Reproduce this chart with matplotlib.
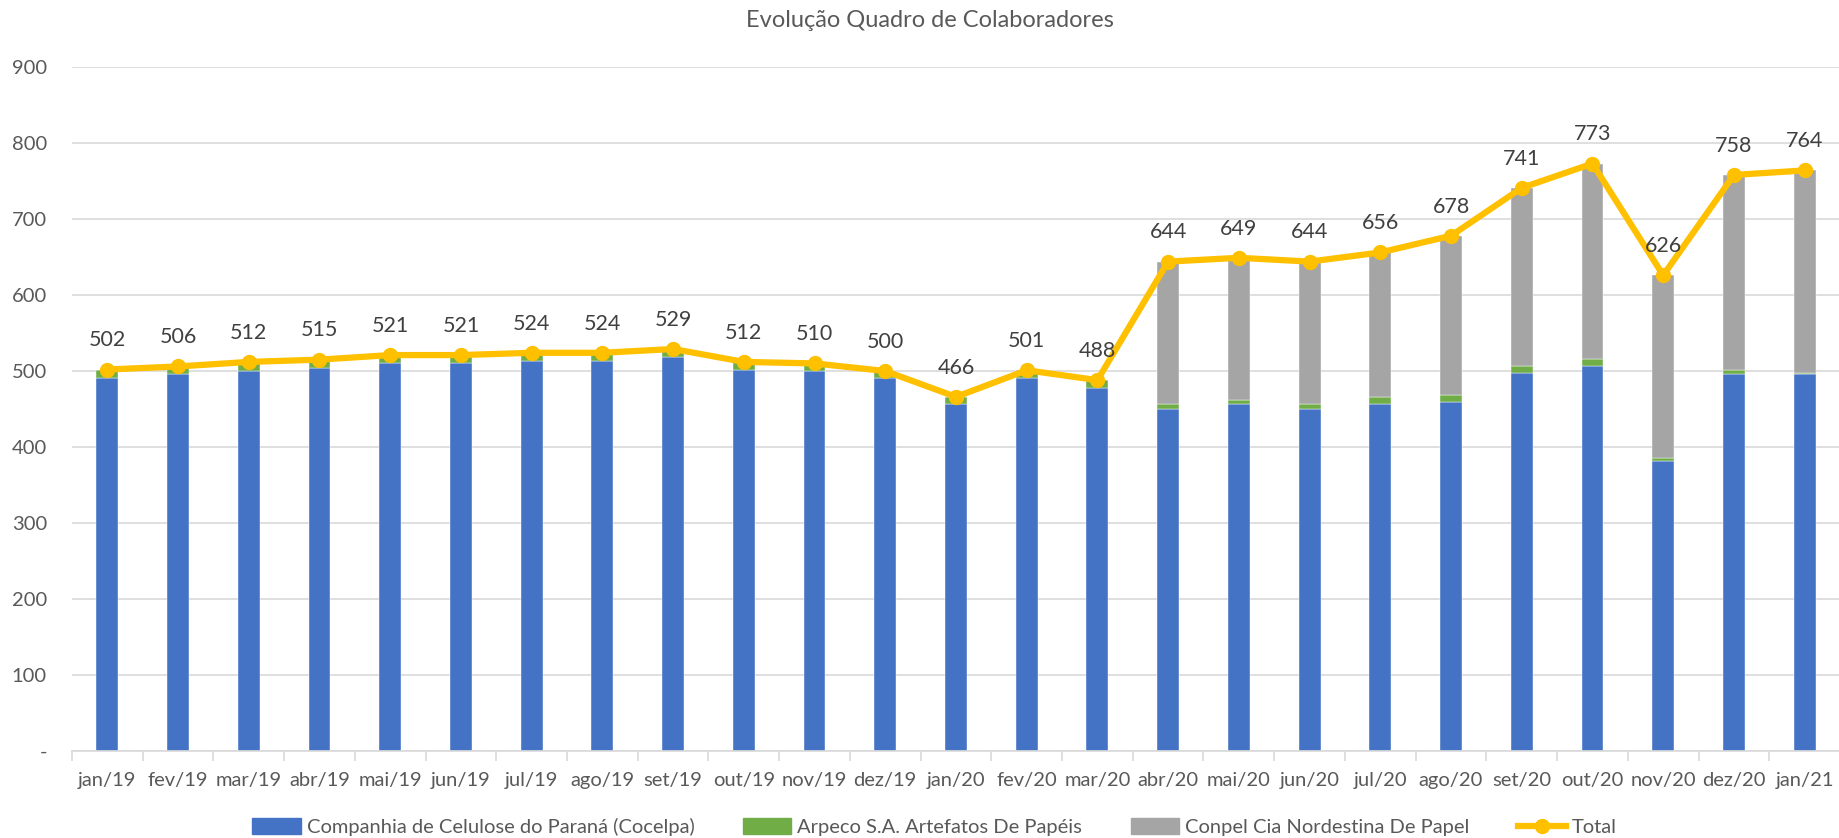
import matplotlib
matplotlib.use("Agg")
import matplotlib.pyplot as plt
import numpy as np
from matplotlib.lines import Line2D
from matplotlib.patches import Patch

plt.rcParams['font.family'] = ['Lato', 'DejaVu Sans']

months = ["jan/19", "fev/19", "mar/19", "abr/19", "mai/19", "jun/19", "jul/19", "ago/19",
          "set/19", "out/19", "nov/19", "dez/19", "jan/20", "fev/20", "mar/20", "abr/20",
          "mai/20", "jun/20", "jul/20", "ago/20", "set/20", "out/20", "nov/20", "dez/20", "jan/21"]
cocelpa = [491, 496, 500, 504, 510, 510, 513, 513, 518, 502, 500, 491, 457, 491, 478,
           450, 456, 450, 457, 459, 497, 507, 381, 496, 496]
arpeco = [11, 10, 12, 11, 11, 11, 11, 11, 11, 10, 10, 9, 9, 10, 10,
          7, 6, 7, 9, 10, 10, 9, 5, 6, 1]
conpel = [0, 0, 0, 0, 0, 0, 0, 0, 0, 0, 0, 0, 0, 0, 0,
          187, 187, 187, 190, 209, 234, 257, 240, 256, 267]
total = [502, 506, 512, 515, 521, 521, 524, 524, 529, 512, 510, 500, 466, 501, 488,
         644, 649, 644, 656, 678, 741, 773, 626, 758, 764]
yticks = [0, 100, 200, 300, 400, 500, 600, 700, 800, 900]
ytick_labels = ["-", "100", "200", "300", "400", "500", "600", "700", "800", "900"]

series_names = ["Companhia de Celulose do Paraná (Cocelpa)", "Arpeco S.A. Artefatos De Papéis",
                "Conpel Cia Nordestina De Papel", "Total"]
c_blue, c_green, c_grey, c_gold = "#4472C4", "#70AD47", "#A5A5A5", "#FFC000"
text_c = "#595959"

fig = plt.figure(figsize=(18.4, 8.38), dpi=100)
ax = fig.add_axes([0.0391, 0.1038, 0.9609, 0.8162])

x = np.arange(len(months))
w = 0.31
b1 = np.array(cocelpa)
b2 = np.array(arpeco)
b3 = np.array(conpel)
ax.bar(x, b1, w, color=c_blue, zorder=2, edgecolor="white", linewidth=0.3)
ax.bar(x, b2, w, bottom=b1, color=c_green, zorder=2, edgecolor="white", linewidth=0.3)
ax.bar(x, b3, w, bottom=b1 + b2, color=c_grey, zorder=2, edgecolor="white", linewidth=0.3)
ax.plot(x, total, color=c_gold, lw=4.5, marker="o", ms=10, zorder=3, solid_joinstyle="round")

for xi, t in zip(x, total):
    ax.annotate(str(t), (xi, t), xytext=(0, 21), textcoords="offset points",
                ha="center", va="center", fontsize=15.5, color="#404040")

ax.set_xlim(-0.5, len(months) - 0.5)
ax.set_ylim(0, 900)
ax.set_yticks(yticks)
ax.set_yticklabels(ytick_labels)
ax.yaxis.grid(True, color="#D9D9D9", lw=1.2, zorder=0)
ax.set_axisbelow(True)
ax.tick_params(axis="y", length=0, pad=18, labelsize=14.5, labelcolor=text_c)

ax.set_xticks(x)
ax.set_xticklabels(months)
ax.tick_params(axis="x", which="major", length=0, pad=15, labelsize=14.5, labelcolor=text_c)
ax.set_xticks(np.arange(-0.5, len(months), 1.0), minor=True)
ax.tick_params(axis="x", which="minor", length=7, color="#D9D9D9", width=1.2)

for s in ["top", "right", "left"]:
    ax.spines[s].set_visible(False)
ax.spines["bottom"].set_color("#D9D9D9")
ax.spines["bottom"].set_linewidth(1.2)

fig.text(0.5054, 0.975, "Evolução Quadro de Colaboradores", ha="center", va="center",
         fontsize=17, color=text_c)

handles = [Patch(color=c_blue), Patch(color=c_green), Patch(color=c_grey),
           Line2D([0], [0], color=c_gold, lw=4.5, marker="o", ms=10)]
fig.legend(handles, series_names, loc="center", bbox_to_anchor=(0.508, 0.013), ncol=4,
           frameon=False, fontsize=14.5, labelcolor=text_c, handlelength=2.4,
           handleheight=0.8, columnspacing=2.4, handletextpad=0.3)

fig.savefig("out.png", dpi=100)
